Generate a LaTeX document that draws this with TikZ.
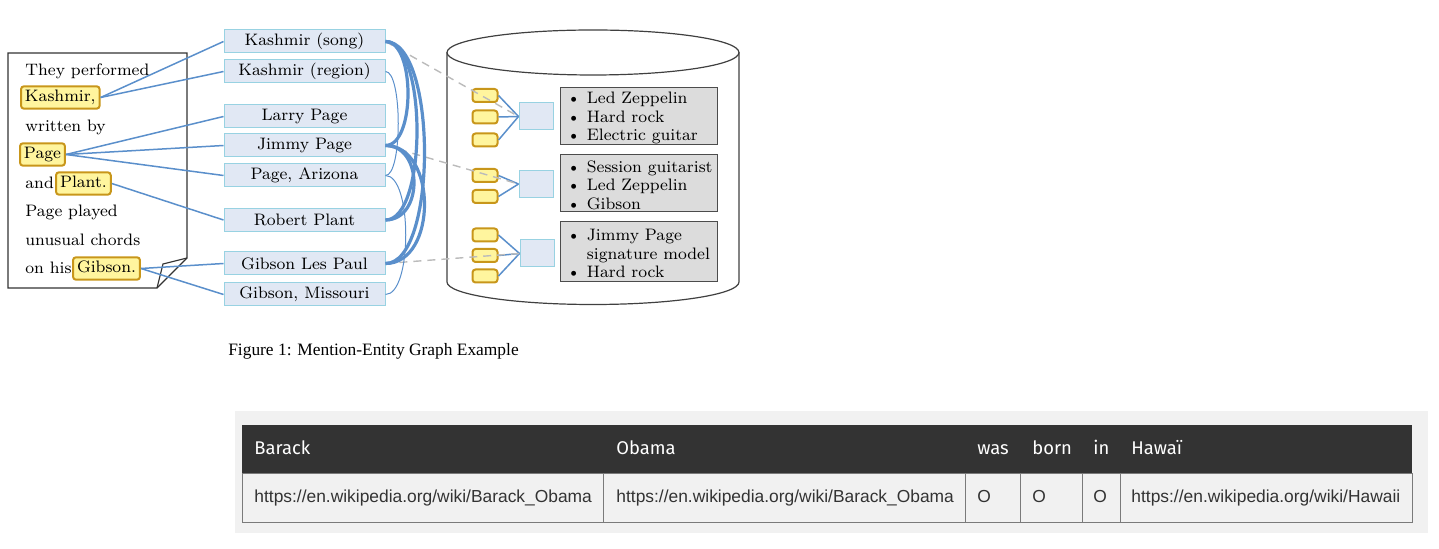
\documentclass[tikz,border=0pt]{standalone}
\usepackage{fontspec}
\newfontfamily\capfont{Liberation Serif}
\newfontfamily\urlfont{Liberation Sans}
\newfontfamily\hdfont{Fira Sans}
\definecolor{hlfill}{HTML}{FFF59E}
\definecolor{hldraw}{HTML}{C8961A}
\definecolor{entfill}{HTML}{E1E8F4}
\definecolor{entdraw}{HTML}{98D2E2}
\definecolor{conn}{HTML}{5A8FCB}
\definecolor{grayfill}{HTML}{DCDCDC}
\definecolor{dashgray}{HTML}{BBBBBB}
\definecolor{tabbg}{HTML}{F1F1F1}
\definecolor{tabhead}{HTML}{333333}
\definecolor{tabline}{HTML}{7A7A7A}
\newcommand{\bul}{\makebox[10pt][l]{\textbullet}}
\begin{document}
\begin{tikzpicture}[x=0.5pt,y=-0.5pt,
  lmfont/.style={font=\fontsize{8.3}{10}\selectfont},
  doctext/.style={lmfont, anchor=west, inner sep=0pt, text height=6pt, text depth=1.6pt},
  hl/.style={lmfont, anchor=west, draw=hldraw, fill=hlfill, line width=1pt, rounded corners=1.5pt,
    inner xsep=2pt, inner ysep=1.8pt, text height=6pt, text depth=1.6pt},
  ent/.style={lmfont, draw=entdraw, fill=entfill, line width=0.5pt, minimum width=80.5pt,
    minimum height=11.5pt, inner sep=0pt},
  smallm/.style={draw=hldraw, fill=hlfill, line width=1pt, rounded corners=1.5pt,
    minimum width=12.5pt, minimum height=6.5pt, inner sep=0pt},
  smalle/.style={draw=entdraw, fill=entfill, line width=0.5pt, minimum width=17pt,
    minimum height=13.5pt, inner sep=0pt},
  desc/.style={draw=black!70, fill=grayfill, line width=0.5pt, minimum width=78.5pt, inner sep=0pt},
  desctext/.style={font=\fontsize{8.3}{9.2}\selectfont, anchor=west, inner xsep=3.5pt, inner ysep=0pt, align=left},
  mconn/.style={conn, line width=0.75pt},
  strongconn/.style={conn, line width=1.6pt},
  thinconn/.style={conn, line width=0.5pt},
  dashconn/.style={dashgray, line width=0.7pt, dash pattern=on 4pt off 3pt},
  urltext/.style={font=\urlfont\fontsize{8.7}{10}\selectfont, text=black!80, anchor=west, inner sep=0pt,
    text height=6.5pt, text depth=1.8pt},
  headtext/.style={font=\hdfont\fontsize{9.2}{11}\selectfont, text=white, anchor=west, inner sep=0pt,
    text height=6.8pt, text depth=1.8pt}
]
\useasboundingbox (0,0) rectangle (1439,549);

% ---------- document ----------
\draw[black!80, line width=0.6pt] (8,53) -- (187,53) -- (187,258) -- (157,288) -- (8,288) -- cycle;
\draw[black!80, line width=0.6pt] (187,258) -- (163,264) -- (157,288);

\node[doctext] (t1) at (25,71.5) {They performed};
\node[hl] (mk) at (20,97.5) {Kashmir,};
\node[doctext] (t2) at (25,127.5) {written by};
\node[hl] (mp) at (19,154.5) {Page~};
\node[doctext] (t3) at (25,184) {and};
\node[hl] (mpl) at (55,183.5) {Plant.};
\node[doctext] (t4) at (25,212.5) {Page played};
\node[doctext] (t5) at (25,241.5) {unusual chords};
\node[doctext] (t6) at (25,269) {on his};
\node[hl] (mg) at (72,268.5) {Gibson.};

% ---------- entities ----------
\node[ent] (song) at (304.5,41.5) {Kashmir (song)};
\node[ent] (region) at (304.5,71.5) {Kashmir (region)};
\node[ent] (larry) at (304.5,116.5) {Larry Page};
\node[ent] (jimmy) at (304.5,145.5) {Jimmy Page};
\node[ent] (paz) at (304.5,175.5) {Page, Arizona};
\node[ent] (robert) at (304.5,220) {Robert Plant};
\node[ent] (glp) at (304.5,263.5) {Gibson Les Paul};
\node[ent] (gmo) at (304.5,294.5) {Gibson, Missouri};

% mention -> entity
\draw[mconn] (mk.east) -- (song.west);
\draw[mconn] (mk.east) -- (region.west);
\draw[mconn] (mp.east) -- (larry.west);
\draw[mconn] (mp.east) -- (jimmy.west);
\draw[mconn] (mp.east) -- (paz.west);
\draw[mconn] (mpl.east) -- (robert.west);
\draw[mconn] (mg.east) -- (glp.west);
\draw[mconn] (mg.east) -- (gmo.west);

% ---------- knowledge base cylinder ----------
\draw[black!75, line width=0.6pt] (447,52.5) -- (447,282)
  arc[start angle=180, end angle=360, x radius=73pt, y radius=11.25pt] -- (739,52.5);
\draw[black!75, line width=0.6pt] (593,52.5) ellipse [x radius=73pt, y radius=11.25pt];

\node[smallm] (a1) at (485,95.5) {};
\node[smallm] (a2) at (485,117) {};
\node[smallm] (a3) at (485,140) {};
\node[smallm] (b1) at (485,175.5) {};
\node[smallm] (b2) at (485,196.5) {};
\node[smallm] (c1) at (485,235) {};
\node[smallm] (c2) at (485,255.5) {};
\node[smallm] (c3) at (485,276) {};

\node[smalle] (e1) at (536,116.5) {};
\node[smalle] (e2) at (536,184) {};
\node[smalle] (e3) at (537,253.5) {};

\foreach \m in {a1,a2,a3} \draw[mconn] (\m.east) -- (e1.west);
\foreach \m in {b1,b2} \draw[mconn] (\m.east) -- (e2.west);
\foreach \m in {c1,c2,c3} \draw[mconn] (\m.east) -- (e3.west);

\node[desc, minimum height=28.5pt] (g1) at (638.5,116.5) {};
\node[desctext] (g1t) at ([yshift=-0.8pt]g1.west) {\bul Led Zeppelin\\\bul Hard rock\\\bul Electric guitar};
\node[desc, minimum height=28.5pt] (g2) at (638.5,183.5) {};
\node[desctext] (g2t) at ([yshift=-0.8pt]g2.west) {\bul Session guitarist\\\bul Led Zeppelin\\\bul Gibson};
\node[desc, minimum height=30pt] (g3) at (638.5,252) {};
\node[desctext] (g3t) at ([yshift=-0.8pt]g3.west) {\bul Jimmy Page\\\hspace*{10pt}signature model\\\bul Hard rock};

% dashed entity -> KB links
\draw[dashconn] (song.east) -- (e1.west);
\draw[dashconn] (jimmy.east) -- (e2.west);
\draw[dashconn] (glp.east) -- (e3.west);

% ---------- entity-entity relatedness ----------
\draw[thinconn] (region.east) .. controls +(17,0) and +(17,0) .. (paz.east);
\draw[thinconn] (paz.east) .. controls +(27,0) and +(27,0) .. (gmo.east);
\draw[strongconn] (song.east) .. controls +(30,0) and +(30,0) .. (jimmy.east);
\draw[strongconn] (song.east) .. controls +(42,0) and +(42,0) .. (robert.east);
\draw[strongconn] (song.east) .. controls +(52,0) and +(52,0) .. (glp.east);
\draw[strongconn] (jimmy.east) .. controls +(38,0) and +(38,0) .. (robert.east);
\draw[strongconn] (jimmy.east) .. controls +(52,0) and +(52,0) .. (glp.east);

% ---------- caption ----------
\node[font=\capfont\fontsize{8.7}{10}\selectfont, inner sep=0pt] (cap) at (373.5,351)
  {Figure 1: Mention-Entity Graph Example};

% ---------- table ----------
\fill[tabbg] (235,411) rectangle (1428,533);
\fill[tabhead] (242,425) rectangle (1412,474);
\draw[tabline, line width=0.5pt, fill=tabbg] (242,474) rectangle (1412,522);
\foreach \xx in {603,965,1020,1082,1120} \draw[tabline, line width=0.5pt] (\xx,474) -- (\xx,522);

\node[headtext] (h1) at (254,450) {Barack};
\node[headtext] (h2) at (616,450) {Obama};
\node[headtext] (h3) at (977,450) {was};
\node[headtext] (h4) at (1032,450) {born};
\node[headtext] (h5) at (1093,450) {in};
\node[headtext] (h6) at (1131,450) {Hawaï};

\node[urltext] (r1) at (254,497.5) {https://en.wikipedia.org/wiki/Barack\_Obama};
\node[urltext] (r2) at (616,497.5) {https://en.wikipedia.org/wiki/Barack\_Obama};
\node[urltext] (r3) at (977,497.5) {O};
\node[urltext] (r4) at (1032,497.5) {O};
\node[urltext] (r5) at (1093,497.5) {O};
\node[urltext] (r6) at (1131,497.5) {https://en.wikipedia.org/wiki/Hawaii};
\end{tikzpicture}
\end{document}
